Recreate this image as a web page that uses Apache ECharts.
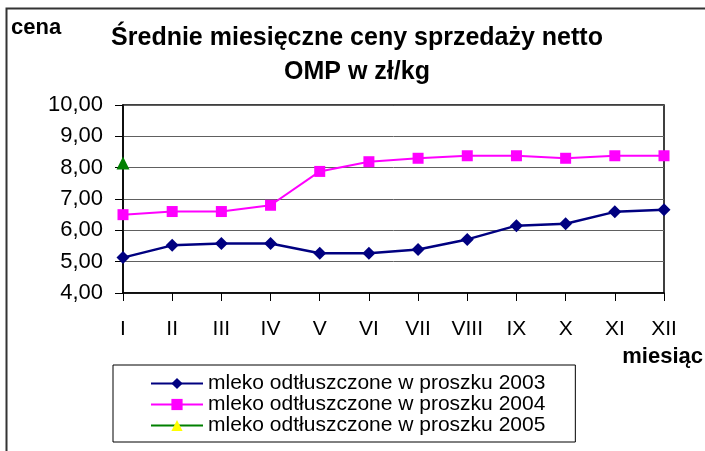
<!DOCTYPE html>
<html>
<head>
<meta charset="utf-8">
<script src="https://cdn.jsdelivr.net/npm/echarts@6/dist/echarts.min.js"></script>
<style>
html, body { margin: 0; padding: 0; background: #fff; }
#chart { width: 705px; height: 451px; }
</style>
</head>
<body>
<div id="chart"></div>
<script>
var months = ['I', 'II', 'III', 'IV', 'V', 'VI', 'VII', 'VIII', 'IX', 'X', 'XI', 'XII'];
var seriesNames = [
    'mleko odtłuszczone w proszku 2003',
    'mleko odtłuszczone w proszku 2004',
    'mleko odtłuszczone w proszku 2005'
];
var prices2003 = [5.13, 5.52, 5.58, 5.58, 5.27, 5.27, 5.39, 5.71, 6.15, 6.21, 6.59, 6.66];
var prices2004 = [6.50, 6.60, 6.60, 6.80, 7.88, 8.19, 8.30, 8.38, 8.38, 8.30, 8.38, 8.38];
var prices2005 = [8.15, null, null, null, null, null, null, null, null, null, null, null];

var FONT = '"Liberation Sans", Arial, sans-serif';

var chart = echarts.init(document.getElementById('chart'));
var option = {
    backgroundColor: '#fff',
    animation: false,
    title: {
        text: 'Średnie miesięczne ceny sprzedaży netto\nOMP w zł/kg',
        left: 357,
        top: 21,
        textAlign: 'center',
        padding: 0,
        textStyle: {
            fontFamily: FONT,
            fontSize: 25,
            fontWeight: 'bold',
            color: '#000',
            lineHeight: 34
        }
    },
    legend: {
        orient: 'vertical',
        left: 113,
        top: 365,
        padding: [8, 30, 6, 37],
        borderColor: '#000',
        borderWidth: 1,
        itemWidth: 52,
        itemHeight: 14,
        itemGap: 0,
        textStyle: {
            fontFamily: FONT,
            fontSize: 21,
            color: '#000',
            lineHeight: 19
        },
        data: [
            { name: seriesNames[0] },
            { name: seriesNames[1] },
            { name: seriesNames[2], itemStyle: { color: '#ffff00' } }
        ]
    },
    grid: {
        left: 123,
        right: 41,
        top: 105,
        bottom: 158,
        show: true,
        borderColor: '#000',
        borderWidth: 1.5
    },
    xAxis: {
        type: 'category',
        boundaryGap: false,
        data: months,
        axisLine: { lineStyle: { color: '#000', width: 1.5 } },
        axisTick: { length: 8, lineStyle: { color: '#000' } },
        axisLabel: {
            fontFamily: FONT,
            fontSize: 21,
            color: '#000',
            margin: 26
        }
    },
    yAxis: {
        type: 'value',
        min: 4,
        max: 10,
        interval: 1,
        axisLine: { show: true, lineStyle: { color: '#000', width: 1.5 } },
        axisTick: { show: true, length: 8, lineStyle: { color: '#000' } },
        splitLine: { lineStyle: { color: '#606060', width: 1 } },
        axisLabel: {
            fontFamily: FONT,
            fontSize: 22,
            color: '#000',
            margin: 20,
            formatter: function (v) { return v.toFixed(2).replace('.', ','); }
        }
    },
    series: [
        {
            name: seriesNames[0],
            type: 'line',
            data: prices2003,
            symbol: 'diamond',
            symbolSize: 13,
            color: '#000080',
            lineStyle: { color: '#000080', width: 2.5 },
            itemStyle: { color: '#000080' }
        },
        {
            name: seriesNames[1],
            type: 'line',
            data: prices2004,
            symbol: 'rect',
            symbolSize: 11,
            color: '#ff00ff',
            lineStyle: { color: '#ff00ff', width: 2 },
            itemStyle: { color: '#ff00ff' }
        },
        {
            name: seriesNames[2],
            type: 'line',
            data: prices2005,
            symbol: 'triangle',
            symbolSize: 13,
            color: '#008000',
            lineStyle: { color: '#008000', width: 2 },
            itemStyle: { color: '#008000' }
        }
    ],
    graphic: [
        {
            type: 'rect',
            z: -1,
            silent: true,
            shape: { x: 6.5, y: 8.5, width: 800, height: 800 },
            style: { fill: 'none', stroke: '#333', lineWidth: 2 }
        },
        {
            type: 'text',
            x: 11,
            y: 28,
            style: {
                text: 'cena',
                font: 'bold 22px ' + FONT,
                fill: '#000',
                verticalAlign: 'middle'
            }
        },
        {
            type: 'text',
            x: 703,
            y: 357,
            style: {
                text: 'miesiąc',
                font: 'bold 22px ' + FONT,
                fill: '#000',
                align: 'right',
                verticalAlign: 'middle'
            }
        }
    ]
};
chart.setOption(option, true);
</script>
</body>
</html>
